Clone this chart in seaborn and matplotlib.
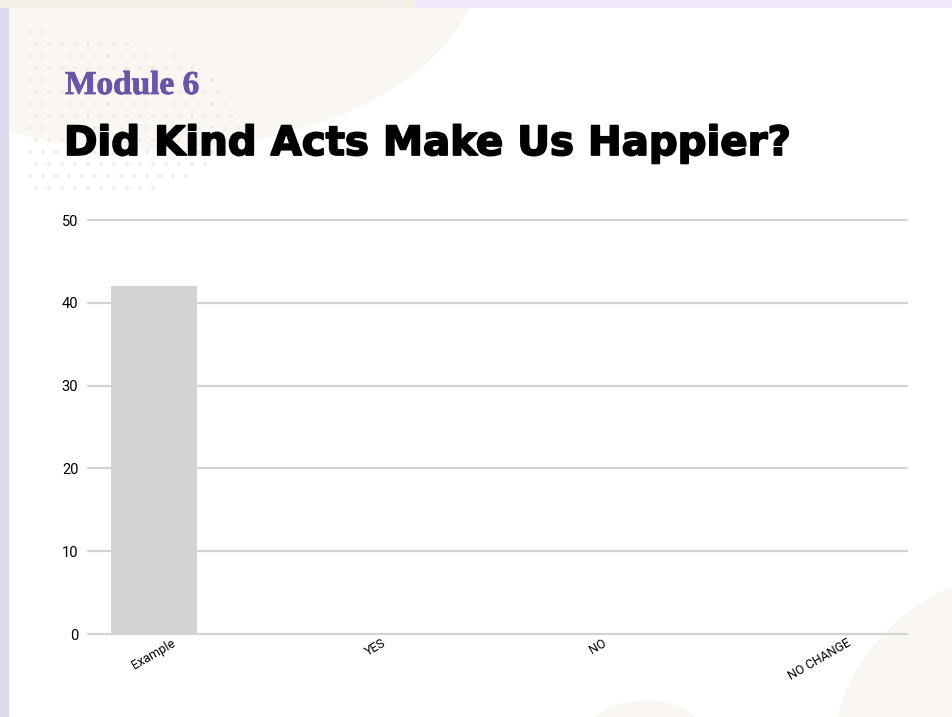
import numpy as np
import pandas as pd
import matplotlib
matplotlib.use("Agg")
import matplotlib.pyplot as plt
import matplotlib.patheffects as pe
from matplotlib.patches import Rectangle, Ellipse
import seaborn as sns

# ---- data ----
categories = ["Example", "YES", "NO", "NO CHANGE"]
values = [42, 0, 0, 0]
y_ticks = [0, 10, 20, 30, 40, 50]
subtitle = "Module 6"
title = "Did Kind Acts Make Us Happier?"

sns.set_theme(style="white")
plt.rcParams["font.family"] = ["Roboto", "DejaVu Sans"]

W, H = 953, 717
fig = plt.figure(figsize=(W / 100, H / 100), dpi=100)
fig.patch.set_facecolor("#efe8fb")


def px(x, y):
    return x / W, 1 - y / H


def rect(x0, y0, x1, y1, color, z=0):
    fx0, fy1 = px(x0, y1)
    r = Rectangle((fx0, fy1), (x1 - x0) / W, (y1 - y0) / H, transform=fig.transFigure,
                  facecolor=color, edgecolor="none", zorder=z)
    fig.patches.append(r)


def ell(cx, cy, w, h, color, z=0, angle=0):
    fx, fy = px(cx, cy)
    e = Ellipse((fx, fy), w / W, h / H, angle=angle, transform=fig.transFigure,
                facecolor=color, edgecolor="none", zorder=z)
    fig.patches.append(e)
    return e


# background decorations
rect(0, 0, 415, 8, "#f3efe7", z=0)
rect(0, 8, 9, 717, "#ddd8ec", z=0)
card = Rectangle(px(9, 717), (W - 9) / W, (717 - 8) / H, transform=fig.transFigure,
                 facecolor="white", edgecolor="none", zorder=1)
fig.patches.append(card)
blob = ell(150, -40, 660, 380, "#faf7f3", z=2)
blob.set_clip_path(card)
b2 = ell(1010, 725, 340, 320, "#faf7f3", z=2, angle=-20)
b2.set_clip_path(card)
b3 = ell(645, 745, 130, 90, "#faf7f3", z=2)
b3.set_clip_path(card)

# decorative dot pattern in top-left blob
gx, gy = np.meshgrid(np.arange(30, 240, 13), np.arange(20, 200, 12))
for xx, yy in zip(gx.ravel(), gy.ravel()):
    xx = xx + (6 if (yy // 12) % 2 else 0)
    if (xx - 20) ** 2 / 220 ** 2 + (yy - 120) ** 2 / 90 ** 2 < 1:
        d = Ellipse(px(xx, yy), 4 / W, 4 / H, transform=fig.transFigure,
                    facecolor="#f3ede5", edgecolor="none", zorder=3)
        fig.patches.append(d)

# axes
x0, x1 = 88, 907
y0, y1 = 634, 220
ax = fig.add_axes([x0 / W, 1 - y0 / H, (x1 - x0) / W, (y0 - y1) / H])
ax.set_facecolor("none")
ax.set_zorder(5)

df = pd.DataFrame({"category": categories, "value": values})
sns.barplot(data=df, x="category", y="value", color="#d3d3d3", width=0.385,
            saturation=1, linewidth=0, edgecolor="none", ax=ax, zorder=3)

spacing = 222
ax.set_xlim((x0 - 154) / spacing, (x1 - 154) / spacing)
ax.set_ylim(0, 50)
ax.set_yticks(y_ticks)
ax.set_yticklabels([str(v) for v in y_ticks], fontsize=10.5, color="black")
ax.yaxis.grid(True, color="#d3d3d3", linewidth=1.6, zorder=0)
ax.xaxis.grid(False)
for gl in ax.get_ygridlines():
    gl.set_clip_on(False)
ax.set_axisbelow(True)
for s in ax.spines.values():
    s.set_visible(False)
ax.tick_params(axis="y", length=0, pad=7)
ax.tick_params(axis="x", length=0, pad=2)
ax.set_xticks(range(len(categories)))
ax.set_xticklabels(categories, rotation=30, ha="center", va="top", fontsize=9, color="black")
ax.set_xlabel("")
ax.set_ylabel("")

# titles
fig.text(65 / W, 1 - 94 / H, subtitle, fontsize=24, fontweight="bold",
         family=["Liberation Serif", "DejaVu Serif"], color="#6a56a8", ha="left",
         va="baseline", zorder=10,
         path_effects=[pe.withStroke(linewidth=0.6, foreground="#6a56a8")])
fig.text(64 / W, 1 - 155 / H, title, fontsize=29, fontweight="bold",
         family=["DejaVu Sans"], color="black", ha="left", va="baseline", zorder=10,
         path_effects=[pe.withStroke(linewidth=1.3, foreground="black")])

fig.savefig("out.png", dpi=100, facecolor=fig.get_facecolor())
